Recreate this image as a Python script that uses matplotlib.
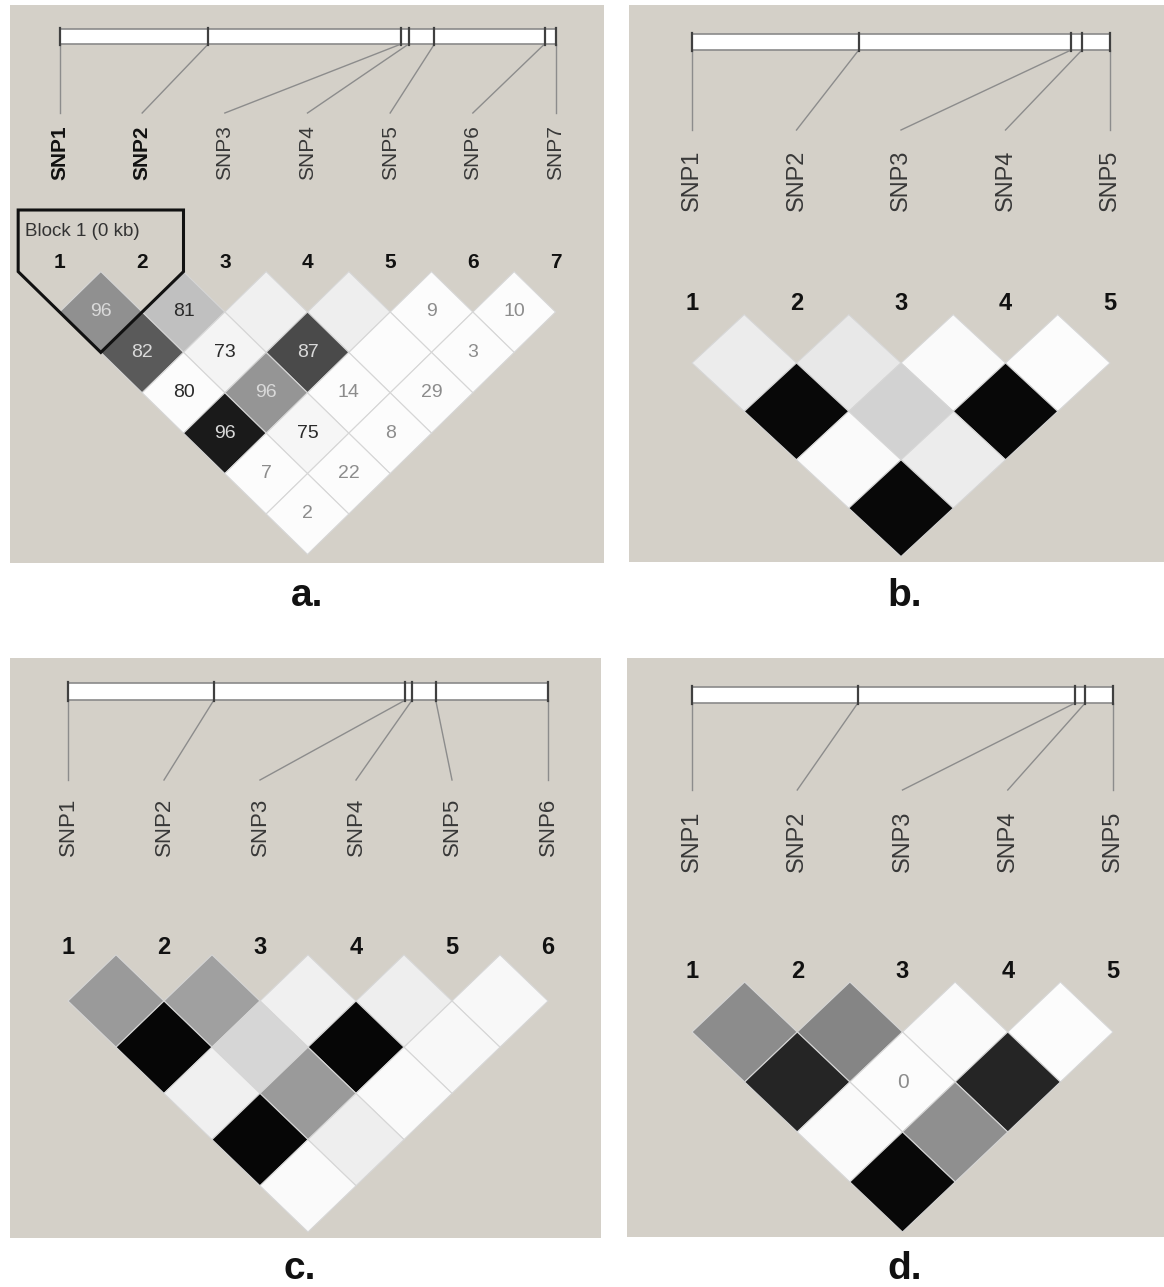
import matplotlib
matplotlib.use('Agg')
import matplotlib.pyplot as plt
from matplotlib.patches import Polygon, Rectangle

plt.rcParams['font.family'] = ['Liberation Sans', 'DejaVu Sans']

# ---- data ----
# marker positions along the physical bar (fraction of bar length)
pos_a = [0.0, 0.300, 0.689, 0.704, 0.756, 0.978, 1.0]
pos_b = [0.0, 0.399, 0.907, 0.933, 1.0]
pos_c = [0.0, 0.304, 0.703, 0.717, 0.766, 1.0]
pos_d = [0.0, 0.394, 0.910, 0.934, 1.0]

# grey level (0 black .. 255 white) per pair, one list per distance (j - i)
shade_a = [[144, 192, 240, 238, 252, 252],
           [90, 244, 74, 252, 252],
           [252, 149, 252, 252],
           [26, 246, 252],
           [252, 252],
           [252]]
shade_b = [[236, 232, 250, 252],
           [8, 210, 8],
           [250, 236],
           [8]]
shade_c = [[154, 160, 240, 238, 248],
           [6, 214, 6, 248],
           [240, 154, 250],
           [6, 238],
           [250]]
shade_d = [[140, 133, 250, 252],
           [37, 252, 37],
           [250, 143],
           [8]]

# D' values printed in the cells ('' = no number)
dp_a = [['96', '81', '', '', '9', '10'],
        ['82', '73', '87', '', '3'],
        ['80', '96', '14', '29'],
        ['96', '75', '8'],
        ['7', '22'],
        ['2']]
dp_b = [[''] * 4, [''] * 3, [''] * 2, ['']]
dp_c = [[''] * 5, [''] * 4, [''] * 3, [''] * 2, ['']]
dp_d = [['', '', '', ''], ['', '0', ''], ['', ''], ['']]

bold_a = ['SNP1', 'SNP2']  # markers inside the block

BG = '#d4d0c8'


def ld_panel(ax, pos, shade, dp, box, x0, x1, bar_y, line_y, lab_y, num_y,
             row_y, hh, lab_fs, num_fs, cell_fs, letter, letter_xy, bold=()):
    n = len(pos)
    ax.add_patch(Rectangle((box[0], box[1]), box[2] - box[0], box[3] - box[1],
                           facecolor=BG, edgecolor='none', zorder=0))
    step = (x1 - x0) / (n - 1)
    hw = step / 2
    xs = [x0 + i * step for i in range(n)]
    # physical map bar
    ax.add_patch(Rectangle((x0, bar_y[0]), x1 - x0, bar_y[1] - bar_y[0],
                           facecolor='white', edgecolor='#8a8a8a', lw=1.2, zorder=2))
    for i, p in enumerate(pos):
        bx = x0 + p * (x1 - x0)
        ax.plot([bx, bx], [bar_y[0] - 1, bar_y[1] + 1], color='#404040', lw=1.6, zorder=3)
        ax.plot([bx, xs[i]], [bar_y[1], line_y], color='#8c8c8c', lw=1.0, zorder=2)
        name = 'SNP%d' % (i + 1)
        if name in bold:
            ax.text(xs[i], lab_y, name, rotation=90, ha='center', va='bottom',
                    fontsize=lab_fs, fontweight='bold', color='#111111')
        else:
            ax.text(xs[i], lab_y, name, rotation=90, ha='center', va='bottom',
                    fontsize=lab_fs, color='#383838')
        ax.text(xs[i], num_y, str(i + 1), ha='center', va='center',
                fontsize=num_fs, fontweight='bold', color='#111111')
    # LD diamonds
    for d, row in enumerate(shade):
        for i, g in enumerate(row):
            cx = (xs[i] + xs[i + d + 1]) / 2
            cy = row_y + d * hh
            col = '#%02x%02x%02x' % (g, g, g)
            ax.add_patch(Polygon([(cx - hw, cy), (cx, cy - hh), (cx + hw, cy), (cx, cy + hh)],
                                 closed=True, facecolor=col, edgecolor='#d6d6d6',
                                 lw=0.8, zorder=4))
            t = dp[d][i]
            if t:
                if g < 160:
                    tc = '#d9d9d9'
                elif int(t) >= 70:
                    tc = '#2a2a2a'
                else:
                    tc = '#8c8c8c'
                ax.text(cx, cy, t, ha='center', va='center', fontsize=cell_fs,
                        color=tc, zorder=5)
    ax.text(letter_xy[0], letter_xy[1], letter, ha='center', va='baseline',
            fontsize=28, fontweight='bold', color='#111111')
    return xs, hw


fig = plt.figure(figsize=(11.64, 12.87), dpi=100)
ax = fig.add_axes([0, 0, 1, 1])
ax.set_xlim(0, 1164)
ax.set_ylim(1287, 0)
ax.axis('off')

xs_a, hw_a = ld_panel(ax, pos_a, shade_a, dp_a, (10, 5, 604, 563), 59.5, 555.5,
                      (29, 44), 113, 180, 262, 312, 40.4, 15, 15, 14, 'a.', (307, 606),
                      bold=bold_a)
ld_panel(ax, pos_b, shade_b, dp_b, (629, 5, 1164, 562), 692, 1110,
         (34, 50), 130, 211, 304, 363, 48.4, 17, 17, 12, 'b.', (905, 606))
ld_panel(ax, pos_c, shade_c, dp_c, (10, 658, 601, 1238), 68, 548,
         (683, 700), 780, 856, 947, 1001, 46.2, 16, 17, 12, 'c.', (300, 1279))
ld_panel(ax, pos_d, shade_d, dp_d, (627, 658, 1164, 1237), 692, 1113,
         (687, 703), 790, 872, 972, 1032, 50, 17, 17, 15, 'd.', (905, 1279))

# haplotype block outline around markers 1-2 in panel a
hh_a = 40.4
bx0 = xs_a[0] - hw_a
bx1 = xs_a[1] + hw_a
bcx = (xs_a[0] + xs_a[1]) / 2
bcy = 312 + hh_a
side_y = bcy - (bcx - bx0) * hh_a / hw_a
ax.add_patch(Polygon([(bx0, 210), (bx1, 210), (bx1, side_y), (bcx, bcy), (bx0, side_y)],
                     closed=True, facecolor='none', edgecolor='#111111', lw=2.2, zorder=6))
ax.text(bx0 + 7, 232, 'Block 1 (0 kb)', ha='left', va='center', fontsize=13.5,
        color='#333333', zorder=6)

fig.savefig('out.png', dpi=100, facecolor='white')
